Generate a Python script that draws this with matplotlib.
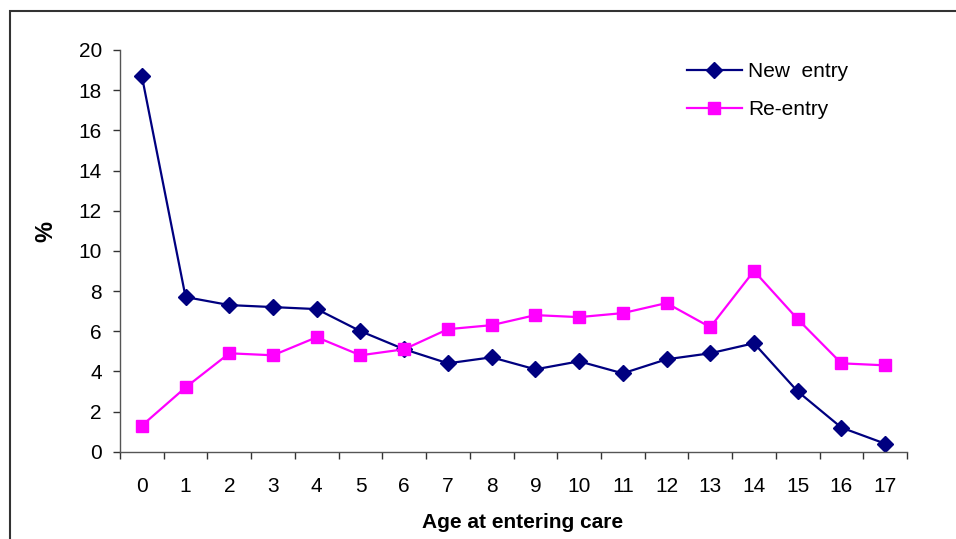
import matplotlib
matplotlib.use("Agg")
import matplotlib.pyplot as plt
from matplotlib.patches import Rectangle
from matplotlib.ticker import FixedLocator, NullFormatter

plt.rcParams['font.family'] = ['Liberation Sans', 'DejaVu Sans']

ages = [str(i) for i in range(18)]
new_entry = [18.7, 7.7, 7.3, 7.2, 7.1, 6.0, 5.1, 4.4, 4.7, 4.1, 4.5, 3.9, 4.6, 4.9, 5.4, 3.0, 1.2, 0.4]
re_entry = [1.3, 3.2, 4.9, 4.8, 5.7, 4.8, 5.1, 6.1, 6.3, 6.8, 6.7, 6.9, 7.4, 6.2, 9.0, 6.6, 4.4, 4.3]
y_ticks = [0, 2, 4, 6, 8, 10, 12, 14, 16, 18, 20]

W, H = 956, 539
fig = plt.figure(figsize=(W / 100, H / 100), dpi=100)

# outer border (left and top visible)
fig.patches.append(Rectangle((10 / W, -0.1), 2.0, 1 - 11 / H + 0.1, transform=fig.transFigure,
                             fill=False, edgecolor='#333333', linewidth=1.5))

ax = fig.add_axes([120 / W, 1 - 451.7 / H, (907 - 120) / W, (451.7 - 50) / H])
x = list(range(len(ages)))
ax.plot(x, new_entry, color='#000080', marker='D', markersize=8.5, linewidth=1.6, label='New  entry')
ax.plot(x, re_entry, color='#FF00FF', marker='s', markersize=8.5, linewidth=1.6, label='Re-entry')

ax.set_xlim(-0.5, len(ages) - 0.5)
ax.set_ylim(0, 20)
ax.set_yticks(y_ticks)
ax.xaxis.set_major_locator(FixedLocator([i - 0.5 for i in range(len(ages) + 1)]))
ax.xaxis.set_major_formatter(NullFormatter())
ax.set_xticks(x, minor=True)
ax.set_xticklabels(ages, minor=True)
ax.tick_params(axis='x', which='major', direction='out', length=5, width=1, color='#333333')
ax.tick_params(axis='x', which='minor', length=0, pad=18, labelsize=15)
ax.tick_params(axis='y', direction='out', length=5, width=1, color='#333333', pad=8, labelsize=15)

for s in ['top', 'right']:
    ax.spines[s].set_visible(False)
for s in ['left', 'bottom']:
    ax.spines[s].set_color('#555555')
    ax.spines[s].set_linewidth(1)

fig.text(523 / W, 1 - 522 / H, 'Age at entering care', ha='center', va='center',
         fontsize=15, fontweight='bold')
fig.text(46 / W, 1 - 232 / H, '%', ha='center', va='center', rotation=90,
         fontsize=17, fontweight='bold')

leg = ax.legend(loc='upper left', bbox_to_anchor=((679 - 120) / (907 - 120), (451.7 - 54) / (451.7 - 50)),
                frameon=False, fontsize=15, handlelength=2.6, handletextpad=0.33,
                labelspacing=0.9, borderaxespad=0)

fig.savefig('out.png', dpi=100)
